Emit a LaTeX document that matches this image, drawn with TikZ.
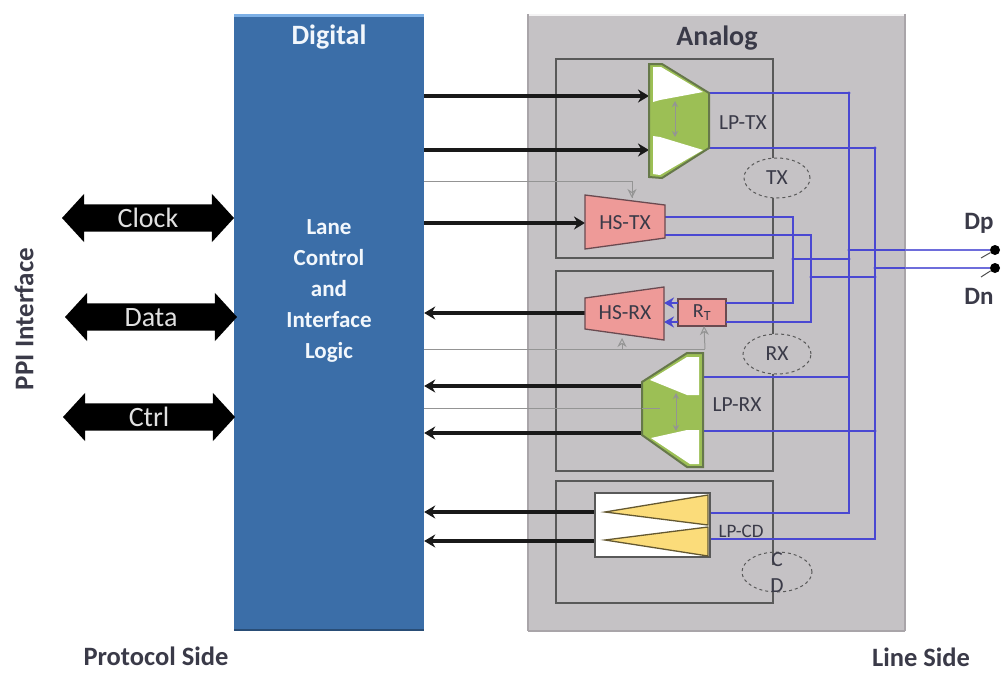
\documentclass[tikz,border=0pt]{standalone}
\usepackage{fontspec}
\setmainfont{Carlito}
\usetikzlibrary{arrows.meta,shapes.geometric,shapes.arrows}
\definecolor{digblue}{HTML}{3B6EA8}
\definecolor{diglight}{HTML}{7DB0E6}
\definecolor{anagray}{HTML}{C5C2C5}
\definecolor{anadark}{HTML}{A9A5A9}
\definecolor{linkblue}{HTML}{4A48D2}
\definecolor{lpgreen}{HTML}{9CBF55}
\definecolor{lpedge}{HTML}{66784A}
\definecolor{hspink}{HTML}{EE9A98}
\definecolor{hsedge}{HTML}{6A4A50}
\definecolor{cdyellow}{HTML}{FBDC7A}
\definecolor{inktext}{HTML}{3A3A48}
\tikzset{
  x=1pt,y=-1pt,
  panel/.style={rectangle,inner sep=0pt,draw=none},
  subbox/.style={rectangle,inner sep=0pt,draw=black!65,line width=1.6pt},
  tag/.style={inner sep=0pt,text=inktext,font=\fontsize{21.5}{23}\selectfont},
  side/.style={inner sep=0pt,text=inktext,font=\fontsize{25}{27}\selectfont\bfseries},
  busline/.style={draw=linkblue,line width=2.2pt},
  bigbus/.style={double arrow,fill=black,draw=none,inner ysep=4pt,inner xsep=0pt,text height=19pt,text depth=0pt,
     double arrow head extend=10.5pt,minimum height=172pt,double arrow tip angle=95,
     text=black!12,font=\fontsize{28}{30}\selectfont},
  sig/.style={draw=black!90,line width=3.4pt,-{Stealth[length=11pt,width=13pt]}},
  ctl/.style={draw=black!42,line width=1pt},
  ctlarrow/.style={draw=black!42,line width=1pt,-{Stealth[length=9pt,width=9pt,fill=anagray,open]}},
  inner2/.style={draw=black!42,line width=1pt,{Stealth[length=6pt,width=6pt]}-{Stealth[length=6pt,width=6pt]}},
  lane/.style={ellipse,draw=black!65,dashed,line width=1pt,fill=anagray,inner sep=0pt,minimum height=40pt},
  pad/.style={circle,fill=black,inner sep=0pt,minimum size=10pt},
  trapH/.style={fill=hspink,draw=hsedge,line width=1.3pt},
  trapL/.style={fill=lpgreen,draw=lpedge,line width=2pt},
  hole/.style={fill=white,draw=none},
  trapC/.style={fill=cdyellow,draw=black!60!cdyellow,line width=1.3pt},
}
\begin{document}
\begin{tikzpicture}
\useasboundingbox (0,0) rectangle (1002,673);
% panels
\node[panel,fill=digblue,minimum width=190pt,minimum height=616pt] (dig) at (329,322) {};
\draw[diglight,line width=3pt] (dig.north west) ++(0,1.5) -- ++(190,0);
\draw[digblue!70!black,line width=1.5pt] (dig.south west) -- (dig.south east);
\node[panel,fill=anagray,minimum width=377pt,minimum height=617pt] (ana) at (716.5,322.5) {};
\draw[white!80!anagray,line width=2.5pt] (ana.north west) ++(0,1) -- ++(377,0);
\draw[anadark,line width=2pt] (ana.north east) -- (ana.south east);
\draw[anadark,line width=2pt] (ana.south west) -- (ana.south east);
\draw[anadark,line width=2pt] (ana.north west) -- (ana.south west);
% sub boxes
\node[subbox,minimum width=217pt,minimum height=199pt] (txbox) at (664.5,158.5) {};
\node[subbox,minimum width=217pt,minimum height=200pt] (rxbox) at (664.5,371) {};
\node[subbox,minimum width=217pt,minimum height=122pt] (cdbox) at (664.5,542) {};
% named anchor points
\coordinate (ltxA) at (649,96); \coordinate (ltxB) at (649,150);
\coordinate (ltxP) at (709,93); \coordinate (ltxN) at (709,148);
\coordinate (htxIn) at (585,223); \coordinate (htxP) at (665,217); \coordinate (htxN) at (665,235);
\coordinate (hrxOut) at (585,313);
\coordinate (hrxP) at (664,303); \coordinate (hrxN) at (664,322);
\coordinate (rtOutP) at (726,303); \coordinate (rtOutN) at (726,322);
\coordinate (rtInP) at (678,303); \coordinate (rtInN) at (678,322);
\coordinate (lrxA) at (642,386); \coordinate (lrxB) at (642,433);
\coordinate (lrxP) at (703,377); \coordinate (lrxN) at (703,431);
\coordinate (lcdA) at (606,512); \coordinate (lcdB) at (606,541);
\coordinate (lcdP) at (710,513); \coordinate (lcdN) at (710,539);
\coordinate (busP) at (849,250); \coordinate (busN) at (875,268);
\coordinate (busHP) at (793,259); \coordinate (busHN) at (811,277);
\coordinate (ctlTx) at (632,198); \coordinate (ctlHrx) at (622,338);
\coordinate (ctlRt) at (704,326); \coordinate (ctlLow) at (660,408);
\coordinate (ctlRail) at (705,349);
% RT resistor node
\node[rectangle,fill=hspink,draw=hsedge,line width=1.3pt,minimum width=48pt,minimum height=27pt,inner sep=0pt,text=inktext,font=\fontsize{20}{22}\selectfont] (rt) at (702,312.5) {R\textsubscript{T}};
% blue wiring
\node[pad] (dp) at (995,250) {};
\node[pad] (dn) at (995,268) {};
\draw[busline] (ltxP) -| (busP |- lcdP) -- (lcdP);
\draw[busline] (ltxN) -| (busN |- lcdN) -- (lcdN);
\draw[busline] (lrxP) -- (busP |- lrxP);
\draw[busline] (lrxN) -- (busN |- lrxN);
\draw[busline] (htxP) -| (busHP |- rtOutP) -- (rtOutP);
\draw[busline] (htxN) -| (busHN |- rtOutN) -- (rtOutN);
\draw[busline] (busHP) -- (busP |- busHP);
\draw[busline] (busHN) -- (busN |- busHN);
\draw[busline] (busP) -- (busN |- busP);
\draw[busline] (busN) -- (ana.east |- busN);
\draw[busline] (busN |- busP) -- (ana.east |- busP);
\draw[linkblue!80!white,line width=1.6pt] (ana.east |- busP) -- (dp);
\draw[linkblue!80!white,line width=1.6pt] (ana.east |- busN) -- (dn);
\draw[black!70,line width=1pt] (981,258) -- (dp);
\draw[black!70,line width=1pt] (981,277) -- (dn);
\foreach \p in {(849,93),(849,148),(875,148),(849,250),(875,250),(849,259),(849,277),(875,268),(875,277),(793,259),(811,259),(811,277),(849,431),(875,431)}
  \fill[linkblue] \p circle (1.7pt);
\draw[busline,-{Stealth[length=10pt,width=11pt]}] (rtInP) -- (hrxP);
\draw[busline,-{Stealth[length=10pt,width=11pt]}] (rtInN) -- (hrxN);
% control lines
\draw[ctl] (dig.east |- 0,181) -| (ctlTx);
\draw[ctlarrow] (ctlTx |- 0,181) -- (ctlTx);
\draw[ctl] (dig.east |- ctlRail) -- (ctlRail);
\draw[ctl] (dig.east |- ctlLow) -- (ctlLow);
% signal arrows
\draw[sig] (dig.east |- ltxA) -- (ltxA);
\draw[sig] (dig.east |- ltxB) -- (ltxB);
\draw[sig] (dig.east |- htxIn) -- (htxIn);
\draw[sig] (hrxOut) -- (dig.east |- hrxOut);
\draw[sig] (lrxA) -- (dig.east |- lrxA);
\draw[sig] (lrxB) -- (dig.east |- lrxB);
\draw[sig] (lcdA) -- (dig.east |- lcdA);
\draw[sig] (lcdB) -- (dig.east |- lcdB);
% LP-TX
\draw[trapL] (649,64) -- (662,64) -- (709,93) -- (709,148) -- (662,178) -- (649,177) -- cycle;
\fill[hole] (653,67) -- (661,67) -- (703,92) -- (660,100) -- (653,102) -- cycle;
\fill[hole] (653,136) -- (660,137) -- (703,150) -- (660,175) -- (653,174) -- cycle;
\draw[inner2] (675,101) -- (675,137);
% HS-TX, HS-RX
\draw[trapH] (585,195) -- (665,205) -- (665,238) -- (585,249) -- cycle;
\draw[trapH] (585,298) -- (664,287) -- (664,340) -- (585,329) -- cycle;
\draw[ctlarrow] (ctlHrx |- ctlRail) -- (ctlHrx);
\draw[ctlarrow] (ctlRail) -- (ctlRt);
% LP-RX
\draw[trapL] (642,382) -- (687,353) -- (703,353) -- (703,467) -- (687,467) -- (642,435) -- cycle;
\fill[hole] (650,380) -- (687,357) -- (699,357) -- (699,395) -- (687,395) -- cycle;
\fill[hole] (651,438) -- (687,430) -- (699,430) -- (699,464) -- (690,464) -- cycle;
\draw[ctl] (642,408) -- (ctlLow);
\draw[inner2] (676,393) -- (676,431);
% LP-CD
\node[rectangle,fill=white,draw=black!65,line width=1.3pt,minimum width=115pt,minimum height=64pt,inner sep=0pt] (cdwhite) at (652.5,525) {};
\draw[trapC] (605,512) -- (708,495) -- (708,525) -- cycle;
\draw[trapC] (605,540) -- (708,527) -- (708,556) -- cycle;
% lanes
\node[lane,minimum width=66pt] (txlane) at (777,178) {};
\node[lane,minimum width=68pt] (rxlane) at (777,354) {};
\node[lane,minimum width=70pt] (cdlane) at (777,572) {};
\draw[black!65,line width=1.6pt] (773,552) -- (773,565);
\draw[black!65,line width=1.6pt] (773,580) -- (773,592);
% text
\node[tag] (t1) at (777,178) {TX};
\node[tag] (t2) at (777,354) {RX};
\node[tag] at (777,560) {C};
\node[tag] at (777,586) {D};
\node[tag] at (743,123) {LP-TX};
\node[tag] at (737,405) {LP-RX};
\node[tag,font=\fontsize{19}{21}\selectfont] at (741,531) {LP-CD};
\node[tag] at (625,223) {HS-TX};
\node[tag] at (625,313) {HS-RX};
\node[inner sep=0pt,text=white!90!diglight,font=\fontsize{28}{30}\selectfont\bfseries] at (329,37) {Digital};
\node[inner sep=0pt,text=white!90!diglight,align=center,font=\fontsize{23}{31}\selectfont\bfseries] at (329,291) {Lane\\Control\\and\\Interface\\Logic};
\node[inner sep=0pt,text=inktext,font=\fontsize{28}{30}\selectfont\bfseries] at (717,38) {Analog};
\node[side,font=\fontsize{26.5}{28}\selectfont\bfseries] at (156,656) {Protocol Side};
\node[side,font=\fontsize{26.5}{28}\selectfont\bfseries] at (921,657) {Line Side};
\node[side] at (979,223) {Dp};
\node[side] at (979,296) {Dn};
\node[inner sep=0pt,text=inktext,rotate=90,font=\fontsize{27}{29}\selectfont\bfseries] at (24,319) {PPI Interface};
% PPI arrows
\node[bigbus] (clk) at (148,218) {Clock};
\node[bigbus] (dat) at (151,317) {Data};
\node[bigbus] (ctr) at (149,417) {Ctrl};
\end{tikzpicture}
\end{document}
